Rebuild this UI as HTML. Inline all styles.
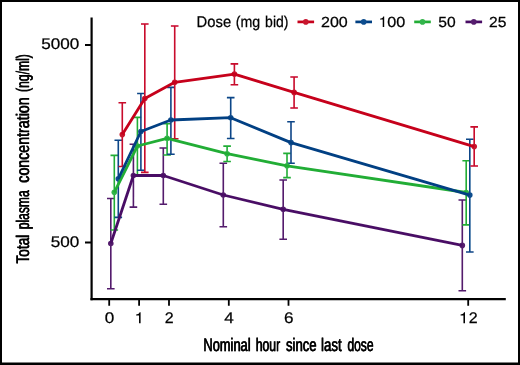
<!DOCTYPE html>
<html><head><meta charset="utf-8"><title>Chart</title>
<style>
html,body{margin:0;padding:0;background:#fff;}
body{width:520px;height:365px;overflow:hidden;}
svg{display:block;opacity:0.999;will-change:transform;}
text{text-rendering:geometricPrecision;}
text{font-family:"Liberation Sans",sans-serif;fill:#000;stroke:#000;stroke-width:0.25px;}
</style></head><body>
<svg width="520" height="365" viewBox="0 0 520 365">
<rect x="0" y="0" width="520" height="365" fill="#fff"/>
<defs><filter id="soft" x="0" y="0" width="520" height="365" filterUnits="userSpaceOnUse"><feGaussianBlur stdDeviation="0.3"/></filter></defs>
<g filter="url(#soft)">
<g fill="none" stroke-width="1.6" stroke-linecap="butt">
<path stroke="#531A6C" d="M110.80 198.50V288.80M107.00 198.50H114.60M107.00 288.80H114.60M133.40 144.20V207.10M129.60 144.20H137.20M129.60 207.10H137.20M163.30 148.00V204.30M159.50 148.00H167.10M159.50 204.30H167.10M223.30 163.20V226.80M219.50 163.20H227.10M219.50 226.80H227.10M283.20 180.00V239.30M279.40 180.00H287.00M279.40 239.30H287.00M462.30 200.00V290.80M458.50 200.00H466.10M458.50 290.80H466.10"/>
<path stroke="#20AD36" d="M114.30 155.40V230.00M110.50 155.40H118.10M110.50 230.00H118.10M137.40 117.40V175.20M133.60 117.40H141.20M133.60 175.20H141.20M167.10 123.80V155.00M163.30 123.80H170.90M163.30 155.00H170.90M227.10 146.10V161.50M223.30 146.10H230.90M223.30 161.50H230.90M287.00 153.40V177.60M283.20 153.40H290.80M283.20 177.60H290.80M466.20 160.80V224.90M462.40 160.80H470.00M462.40 224.90H470.00"/>
<path stroke="#0B4587" d="M118.30 140.30V217.40M114.50 140.30H122.10M114.50 217.40H122.10M140.90 93.50V170.20M137.10 93.50H144.70M137.10 170.20H144.70M170.90 87.40V154.30M167.10 87.40H174.70M167.10 154.30H174.70M230.70 97.60V138.50M226.90 97.60H234.50M226.90 138.50H234.50M291.00 121.80V163.30M287.20 121.80H294.80M287.20 163.30H294.80M469.80 139.20V252.00M466.00 139.20H473.60M466.00 252.00H473.60"/>
<path stroke="#C8082A" d="M122.30 102.80V166.50M118.50 102.80H126.10M118.50 166.50H126.10M144.80 24.00V172.40M141.00 24.00H148.60M141.00 172.40H148.60M174.70 26.00V138.80M170.90 26.00H178.50M170.90 138.80H178.50M234.40 63.90V84.80M230.60 63.90H238.20M230.60 84.80H238.20M294.10 77.00V108.00M290.30 77.00H297.90M290.30 108.00H297.90M474.20 126.90V166.00M470.40 126.90H478.00M470.40 166.00H478.00"/>
</g>
<g fill="#561F6E"><circle cx="110.80" cy="243.50" r="2.8"/><circle cx="133.40" cy="175.50" r="2.8"/><circle cx="163.30" cy="175.50" r="2.8"/><circle cx="223.30" cy="195.00" r="2.8"/><circle cx="283.20" cy="209.30" r="2.8"/><circle cx="462.30" cy="245.40" r="2.8"/></g>
<g fill="#33B54B"><circle cx="114.30" cy="192.30" r="2.8"/><circle cx="137.40" cy="146.00" r="2.8"/><circle cx="167.10" cy="138.30" r="2.8"/><circle cx="227.10" cy="153.70" r="2.8"/><circle cx="287.00" cy="165.80" r="2.8"/><circle cx="466.20" cy="192.50" r="2.8"/></g>
<g fill="#114E8E"><circle cx="118.30" cy="178.80" r="2.8"/><circle cx="140.90" cy="131.50" r="2.8"/><circle cx="170.90" cy="120.00" r="2.8"/><circle cx="230.70" cy="117.70" r="2.8"/><circle cx="291.00" cy="142.60" r="2.8"/><circle cx="469.80" cy="195.10" r="2.8"/></g>
<g fill="#C8142F"><circle cx="122.30" cy="134.60" r="2.8"/><circle cx="144.80" cy="98.50" r="2.8"/><circle cx="174.70" cy="82.30" r="2.8"/><circle cx="234.40" cy="74.10" r="2.8"/><circle cx="294.10" cy="92.40" r="2.8"/><circle cx="474.20" cy="146.60" r="2.8"/></g>
<polyline fill="none" stroke-width="2.8" stroke-linejoin="round" stroke="#4A1065" points="110.80,243.50 133.40,175.50 163.30,175.50 223.30,195.00 283.20,209.30 462.30,245.40"/>
<polyline fill="none" stroke-width="2.8" stroke-linejoin="round" stroke="#20AD36" points="114.30,192.30 137.40,146.00 167.10,138.30 227.10,153.70 287.00,165.80 466.20,192.50"/>
<polyline fill="none" stroke-width="2.8" stroke-linejoin="round" stroke="#063F83" points="118.30,178.80 140.90,131.50 170.90,120.00 230.70,117.70 291.00,142.60 469.80,195.10"/>
<polyline fill="none" stroke-width="2.8" stroke-linejoin="round" stroke="#C6001A" points="122.30,134.60 144.80,98.50 174.70,82.30 234.40,74.10 294.10,92.40 474.20,146.60"/>
<g stroke="#000" fill="none">
<path stroke-width="2.2" d="M91.6 17.4V300.3"/>
<path stroke-width="2.2" d="M90.5 299.2H505.8"/>
<path stroke-width="1.9" d="M85 45.0H91.6M85 242.5H91.6"/>
<path stroke-width="1.8" d="M109.2 299V305.8M139.1 299V305.8M169.0 299V305.8M228.8 299V305.8M288.5 299V305.8M468.2 299V305.8"/>
</g>
<text transform="translate(79.30 48.90) scale(1.112 1)" font-size="15.4" text-anchor="end">5000</text>
<text transform="translate(79.30 247.20) scale(1.112 1)" font-size="15.4" text-anchor="end">500</text>
<text transform="translate(109.50 323.30) scale(1.112 1)" font-size="15.4" text-anchor="middle">0</text>
<path d="M140.60 323.20L139.04 323.20L139.04 315.41L136.16 315.41L136.16 314.42C137.71 314.36 138.56 313.99 138.94 313.53C139.32 313.07 139.52 312.57 139.64 312.28L140.60 312.28Z" fill="#000"/>
<text transform="translate(169.30 323.30) scale(1.04 1)" font-size="15.4" text-anchor="middle">2</text>
<text transform="translate(229.10 323.30) scale(1.112 1)" font-size="15.4" text-anchor="middle">4</text>
<text transform="translate(288.80 323.30) scale(1.112 1)" font-size="15.4" text-anchor="middle">6</text>
<path d="M465.00 323.20L463.44 323.20L463.44 315.41L460.56 315.41L460.56 314.42C462.11 314.36 462.96 313.99 463.34 313.53C463.72 313.07 463.92 312.57 464.04 312.28L465.00 312.28Z" fill="#000"/>
<text transform="translate(468.85 323.30) scale(1.04 1)" font-size="15.4" text-anchor="start">2</text>
<path d="M297.50 21.9H314.10" stroke="#C6001A" stroke-width="2.7" fill="none"/>
<circle cx="305.80" cy="21.9" r="2.8" fill="#C8142F"/>
<text transform="translate(321.00 27.00) scale(1.1 1)" font-size="14.6" text-anchor="start">200</text>
<path d="M355.40 21.9H372.00" stroke="#063F83" stroke-width="2.7" fill="none"/>
<circle cx="363.70" cy="21.9" r="2.8" fill="#114E8E"/>
<path d="M384.20 26.95L382.73 26.95L382.73 19.56L380.01 19.56L380.01 18.63C381.46 18.57 382.27 18.22 382.63 17.78C382.99 17.34 383.18 16.88 383.29 16.60L384.20 16.60Z" fill="#000"/>
<text transform="translate(387.30 27.00) scale(1.109 1)" font-size="14.6" text-anchor="start">00</text>
<path d="M414.20 21.9H430.80" stroke="#20AD36" stroke-width="2.7" fill="none"/>
<circle cx="422.50" cy="21.9" r="2.8" fill="#33B54B"/>
<text transform="translate(438.30 27.00) scale(1.07 1)" font-size="14.6" text-anchor="start">50</text>
<path d="M465.50 21.9H482.10" stroke="#4A1065" stroke-width="2.7" fill="none"/>
<circle cx="473.80" cy="21.9" r="2.8" fill="#561F6E"/>
<text transform="translate(489.10 27.00) scale(1.07 1)" font-size="14.6" text-anchor="start">25</text>
<text transform="translate(196.62 27.05) scale(0.9478 1)" font-size="15.6" text-anchor="start">Dose</text>
<text transform="translate(235.73 27.05) scale(0.9116 1)" font-size="15.6" text-anchor="start">(mg</text>
<text transform="translate(265.10 27.05) scale(0.8981 1)" font-size="15.6" text-anchor="start">bid)</text>
<text transform="translate(203.14 350.60) scale(0.708 1)" font-size="18.2" text-anchor="start" stroke-width="0.1">Nominal</text>
<text transform="translate(203.59 350.60) scale(0.708 1)" font-size="18.2" text-anchor="start" stroke-width="0.1">Nominal</text>
<text transform="translate(255.46 350.60) scale(0.6729 1)" font-size="18.2" text-anchor="start" stroke-width="0.1">hour</text>
<text transform="translate(255.91 350.60) scale(0.6729 1)" font-size="18.2" text-anchor="start" stroke-width="0.1">hour</text>
<text transform="translate(285.84 350.60) scale(0.7181 1)" font-size="18.2" text-anchor="start" stroke-width="0.1">since</text>
<text transform="translate(286.29 350.60) scale(0.7181 1)" font-size="18.2" text-anchor="start" stroke-width="0.1">since</text>
<text transform="translate(320.82 350.60) scale(0.7315 1)" font-size="18.2" text-anchor="start" stroke-width="0.1">last</text>
<text transform="translate(321.27 350.60) scale(0.7315 1)" font-size="18.2" text-anchor="start" stroke-width="0.1">last</text>
<text transform="translate(347.20 350.60) scale(0.6636 1)" font-size="18.2" text-anchor="start" stroke-width="0.1">dose</text>
<text transform="translate(347.65 350.60) scale(0.6636 1)" font-size="18.2" text-anchor="start" stroke-width="0.1">dose</text>
<text transform="translate(29.20 263.70) rotate(-90) scale(0.7503 1)" font-size="18.2" text-anchor="start" stroke-width="0.1">Total</text>
<text transform="translate(29.20 263.25) rotate(-90) scale(0.7503 1)" font-size="18.2" text-anchor="start" stroke-width="0.1">Total</text>
<text transform="translate(29.20 229.46) rotate(-90) scale(0.6629 1)" font-size="18.2" text-anchor="start" stroke-width="0.1">plasma</text>
<text transform="translate(29.20 229.01) rotate(-90) scale(0.6629 1)" font-size="18.2" text-anchor="start" stroke-width="0.1">plasma</text>
<text transform="translate(29.20 182.89) rotate(-90) scale(0.7811 1)" font-size="18.2" text-anchor="start" stroke-width="0.1">concentration</text>
<text transform="translate(29.20 182.44) rotate(-90) scale(0.7811 1)" font-size="18.2" text-anchor="start" stroke-width="0.1">concentration</text>
<text transform="translate(29.20 92.14) rotate(-90) scale(0.6682 1)" font-size="18.2" text-anchor="start" stroke-width="0.1">(ng/ml)</text>
<text transform="translate(29.20 91.69) rotate(-90) scale(0.6682 1)" font-size="18.2" text-anchor="start" stroke-width="0.1">(ng/ml)</text>
</g>
<path fill="#000" d="M0 0H520V365H0Z M2 2V362.5H518V2Z" fill-rule="evenodd"/>
</svg></body></html>
